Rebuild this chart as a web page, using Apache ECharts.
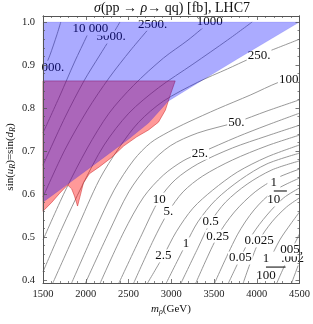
<!DOCTYPE html>
<html><head><meta charset="utf-8">
<script src="https://cdn.jsdelivr.net/npm/echarts@6/dist/echarts.min.js"></script>
<style>html,body{margin:0;padding:0;background:#fff}#c{width:313px;height:324px}</style>
</head><body><div id="c"></div>
<script>
// ---- data ----
const xTicks = [1500, 2000, 2500, 3000, 3500, 4000, 4500];
const yTicks = [0.4, 0.5, 0.6, 0.7, 0.8, 0.9, 1.0];
const yMinorTicks = [0.42,0.44,0.46,0.48,0.52,0.54,0.56,0.58,0.62,0.64,0.66,0.68,0.72,0.74,0.76,0.78,0.82,0.84,0.86,0.88,0.92,0.94,0.96,0.98];

const contourLevels = ['25000','10000','5000','2500','1000','500','250','100','50','25','10','5','2.5','1','0.5','0.25','0.1','0.05','0.025','0.01','0.005','0.0025'];
const c25000 = [[1500,0.884],[1581,0.923],[1662,0.970],[1708,1.0]];
const c10000 = [[1500,0.742],[1696,0.828],[1869,0.907],[2019,0.970],[2088,1.0]];
const c5000 = [[1500,0.667],[1754,0.777],[1985,0.865],[2158,0.921],[2296,0.965],[2400,1.0]];
const c2500 = [[1500,0.593],[1754,0.702],[2019,0.795],[2273,0.870],[2527,0.935],[2804,1.0]];
const c1000 = [[1500,0.493],[1754,0.605],[2019,0.707],[2273,0.788],[2561,0.853],[2908,0.916],[3196,0.958],[3450,1.0]];
const c500 = [[1500,0.419],[1719,0.519],[1962,0.621],[2215,0.714],[2504,0.788],[2850,0.847],[3254,0.902],[3658,0.958],[3946,1.0]];
const c250 = [[1615,0.393],[1892,0.516],[2158,0.633],[2388,0.707],[2619,0.767],[2908,0.816],[3311,0.860],[3658,0.891],[3911,0.914],[4154,0.933],[4500,0.960]];
const c100 = [[1835,0.393],[2100,0.512],[2331,0.609],[2561,0.679],[2758,0.719],[2965,0.744],[3196,0.767],[3542,0.798],[3923,0.830],[4258,0.860],[4500,0.874]];
const c50 = [[1996,0.393],[2273,0.512],[2504,0.605],[2735,0.667],[2988,0.712],[3311,0.742],[3761,0.767],[4119,0.793],[4500,0.819]];
const c25 = [[2169,0.393],[2446,0.512],[2677,0.593],[2908,0.644],[3138,0.677],[3335,0.695],[3773,0.733],[4119,0.760],[4500,0.788]];
const c10 = [[2388,0.393],[2654,0.505],[2861,0.588],[3046,0.633],[3311,0.670],[3715,0.707],[4119,0.735],[4500,0.760]];
const c5 = [[2561,0.393],[2792,0.493],[2965,0.558],[3138,0.605],[3369,0.642],[3715,0.679],[4119,0.712],[4500,0.737]];
const c2p5 = [[2723,0.393],[2908,0.456],[3058,0.512],[3254,0.567],[3485,0.609],[3773,0.651],[4119,0.686],[4500,0.714]];
const c1 = [[2942,0.393],[3173,0.484],[3311,0.535],[3519,0.586],[3808,0.633],[4119,0.670],[4500,0.695]];
const c0p5 = [[3115,0.393],[3311,0.474],[3461,0.535],[3635,0.581],[3888,0.623],[4177,0.656],[4500,0.677]];
const c0p25 = [[3288,0.393],[3542,0.502],[3738,0.558],[3981,0.605],[4235,0.637],[4500,0.658]];
const c0p1 = [[3508,0.393],[3773,0.505],[3969,0.563],[4200,0.607],[4500,0.637]];
const c0p05 = [[3669,0.393],[3808,0.451],[3946,0.505],[4119,0.551],[4315,0.591],[4500,0.614]];
const c0p025 = [[3842,0.393],[4027,0.491],[4177,0.535],[4350,0.570],[4500,0.591]];
const c0p01 = [[4038,0.393],[4142,0.442],[4269,0.493],[4396,0.530],[4500,0.558]];
const c0p005 = [[4235,0.393],[4408,0.470],[4500,0.507]];
const c0p0025 = [[4408,0.393],[4500,0.442]];
const contours = [c25000,c10000,c5000,c2500,c1000,c500,c250,c100,c50,c25,c10,c5,c2p5,c1,c0p5,c0p25,c0p1,c0p05,c0p025,c0p01,c0p005,c0p0025];

// excluded regions (polygon vertices: m_rho, sin)
const blueRegion = [[1500,1.0],[4500,1.0],[3773,0.914],[3311,0.858],[2965,0.816],[2735,0.765],[2504,0.728],[2158,0.677],[1812,0.626],[1500,0.581]];
const redRegion = [[1500,0.863],[3046,0.863],[2988,0.830],[2931,0.795],[2850,0.767],[2735,0.749],[2596,0.733],[2446,0.712],[2296,0.684],[2158,0.663],[2042,0.647],[1973,0.626],[1938,0.598],[1904,0.572],[1869,0.595],[1835,0.612],[1788,0.621],[1696,0.602],[1604,0.581],[1500,0.560]];

// contour labels
const labelTexts = ['000.','5000.','10 000','2500.','1000','250.','100','50.','25.','10','5.','2.5','1','0.5','0.25','1/10','0.025','0.05','1/100','.002','005,'];
const labelM = [1615,2296,2054,2781,3450,4027,4373,3761,3335,2861,2965,2908,3173,3461,3542,4200,4027,3808,4108,4419,4408];
const labelS = [0.895,0.965,0.984,0.995,1.000,0.923,0.865,0.767,0.695,0.588,0.558,0.456,0.484,0.535,0.502,0.607,0.491,0.451,0.430,0.449,0.470];

// ---- chart ----
const FONT = '"Liberation Serif","Times New Roman",serif';
const chart = echarts.init(document.getElementById('c'), null, {renderer: 'canvas'});
const frame = '#555';

function polyRenderer(points, fill, stroke, lw) {
  return function (params, api) {
    if (params.dataIndex !== 0) return null;
    const pts = points.map(p => api.coord(p));
    return {type: 'polygon', shape: {points: pts}, style: {fill: fill, stroke: stroke, lineWidth: lw}};
  };
}
function labelRenderer(params, api) {
  const i = api.value(2);
  const p = api.coord([api.value(0), api.value(1)]);
  const t = labelTexts[i];
  if (t.indexOf('/') > 0) {
    const parts = t.split('/');
    return {type: 'text', x: p[0], y: p[1], style: {
      text: '{n|' + parts[0] + '}\n{hr|}\n{n|' + parts[1] + '}',
      align: 'center', verticalAlign: 'middle', backgroundColor: '#fff',
      rich: {
        n: {fontSize: 13, fontFamily: FONT, fill: '#111', align: 'center', lineHeight: 14},
        hr: {borderColor: '#222', width: '100%', borderWidth: 0.7, height: 0, lineHeight: 3}
      }
    }};
  }
  return {type: 'text', x: p[0], y: p[1], style: {
    text: t, font: '13px ' + FONT, fill: '#111', align: 'center', verticalAlign: 'middle',
    backgroundColor: '#fff', padding: [0, 1]
  }};
}

const series = [];
contours.forEach((c, k) => {
  series.push({
    type: 'line', name: contourLevels[k], data: c, showSymbol: false, smooth: 0.3,
    lineStyle: {color: '#8c8c8c', width: 0.9}, silent: true, z: 2, animation: false
  });
});
series.push({
  type: 'custom', name: 'labels', z: 3, silent: true, animation: false,
  data: labelTexts.map((t, i) => [labelM[i], labelS[i], i]),
  encode: {x: 0, y: 1}, renderItem: labelRenderer
});
series.push({
  type: 'custom', name: 'red', z: 4, silent: true, animation: false,
  data: redRegion, encode: {x: 0, y: 1},
  renderItem: polyRenderer(redRegion, 'rgba(255,0,0,0.4)', 'rgba(205,40,40,0.75)', 0.7)
});
series.push({
  type: 'custom', name: 'blue', z: 5, silent: true, animation: false,
  data: blueRegion, encode: {x: 0, y: 1},
  renderItem: polyRenderer(blueRegion, 'rgba(0,0,255,0.33)', 'rgba(0,0,200,0.2)', 0.5)
});

function xAx(pos, showLabel) {
  return {
    type: 'value', position: pos, min: 1500, max: 4500, interval: 500, z: 10,
    axisLine: {show: true, onZero: false, lineStyle: {color: frame, width: 1}},
    axisTick: {show: true, inside: true, length: 4, lineStyle: {color: frame, width: 0.8}},
    minorTick: {show: true, splitNumber: 5, length: 2, lineStyle: {color: frame, width: 0.7}},
    axisLabel: {show: showLabel, margin: 6, color: '#222', fontFamily: FONT, fontSize: 10.5,
      showMinLabel: true, showMaxLabel: true, formatter: v => String(v)},
    splitLine: {show: false}
  };
}
function yAx(pos, vals, len, showLabel) {
  return {
    type: 'value', position: pos, min: 0.393, max: 1.014, z: 10,
    axisLine: {show: true, onZero: false, lineStyle: {color: frame, width: 1}},
    axisTick: {show: true, inside: true, length: len, customValues: vals, lineStyle: {color: frame, width: len > 3 ? 0.8 : 0.7}},
    axisLabel: {show: showLabel, customValues: yTicks, formatter: v => v.toFixed(1), margin: 8, color: '#222', fontFamily: FONT, fontSize: 10.5},
    splitLine: {show: false}
  };
}

chart.setOption({
  animation: false,
  backgroundColor: '#fff',
  grid: {left: 43, right: 10, top: 16, bottom: 41},
  xAxis: [xAx('bottom', true), xAx('top', false)],
  yAxis: [yAx('left', yTicks, 4, true), yAx('left', yMinorTicks, 2, false), yAx('right', yTicks, 4, false), yAx('right', yMinorTicks, 2, false)],
  graphic: [
    {type: 'text', x: 172, y: 8, style: {
      text: '{i|σ}(pp → {i|ρ}→ qq) [fb], LHC7', align: 'center', verticalAlign: 'middle',
      font: '14px ' + FONT, fill: '#111',
      rich: {i: {fontStyle: 'italic', fontSize: 14, fontFamily: FONT, fill: '#111'}}
    }},
    {type: 'text', x: 171, y: 309, style: {
      text: '{i|m}{s|ρ}(GeV)', align: 'center', verticalAlign: 'middle',
      font: '11px ' + FONT, fill: '#111',
      rich: {i: {fontStyle: 'italic', fontSize: 11, fontFamily: FONT, fill: '#111', lineHeight: 13},
             s: {fontStyle: 'italic', fontSize: 8, fontFamily: FONT, fill: '#111', verticalAlign: 'bottom', lineHeight: 13}}
    }},
    {type: 'text', x: 10, y: 157, rotation: Math.PI / 2, style: {
      text: 'sin({i|u}{s|R})=sin({i|d}{s|R})', align: 'center', verticalAlign: 'middle',
      font: '11px ' + FONT, fill: '#111',
      rich: {i: {fontStyle: 'italic', fontSize: 11, fontFamily: FONT, fill: '#111', lineHeight: 13},
             s: {fontStyle: 'italic', fontSize: 8, fontFamily: FONT, fill: '#111', verticalAlign: 'bottom', lineHeight: 13}}
    }}
  ],
  series: series
});
</script>
</body></html>
